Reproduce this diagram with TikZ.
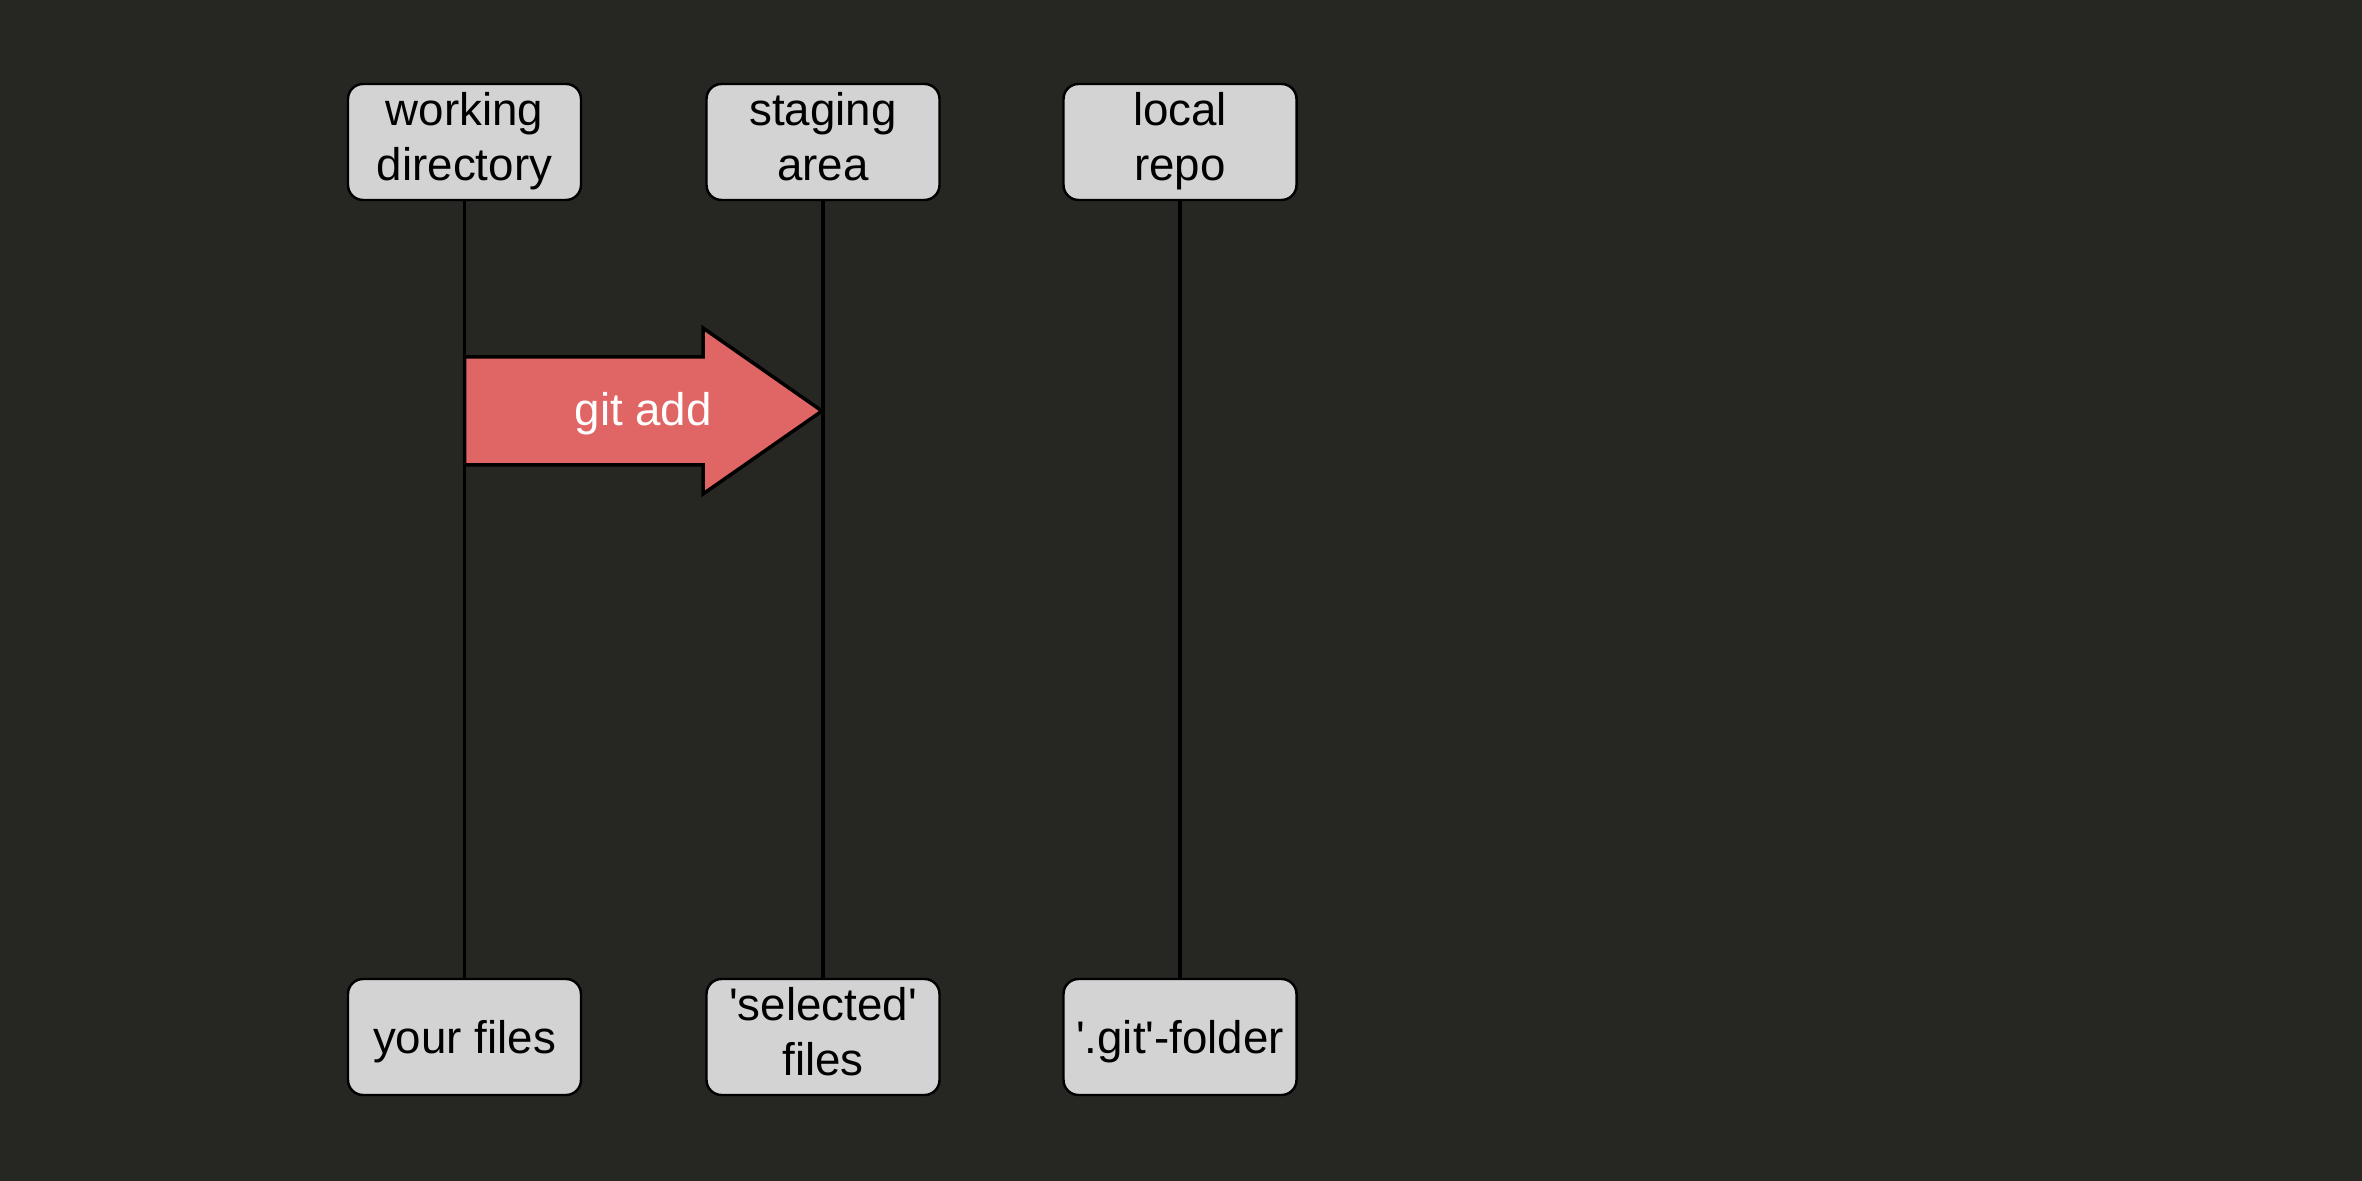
\documentclass[tikz,border=0pt]{standalone}
\usepackage{fontspec}
\setmainfont{Liberation Sans}
\usetikzlibrary{calc}
\definecolor{bgdark}{HTML}{262622}
\definecolor{boxgray}{HTML}{D3D3D3}
\definecolor{addred}{HTML}{E06666}
\newcommand{\lanestrut}{\rule[-0.2\baselineskip]{0pt}{\baselineskip}}
\begin{document}
\begin{tikzpicture}[
    lane/.style={draw=black,fill=boxgray,rounded corners=0.15cm,line width=0.7pt,
      minimum width=2.33cm,minimum height=1.16cm,inner sep=0pt,align=center,
      font=\fontsize{13}{15.5}\selectfont,
      execute at begin node={\lanestrut},execute at end node={\lanestrut}},
    life/.style={black,line width=1pt}]
      \fill[bgdark] (0,0) rectangle (23.62,11.81);
      % top boxes
      \node[lane] (wdir) at (4.645,10.39) {working\\directory};
      \node[lane] (stage) at (8.23,10.39) {staging\\area};
      \node[lane] (repo) at (11.80,10.39) {local\\repo};
      % bottom boxes
      \node[lane] (wfiles) at (4.645,1.44) {your files};
      \node[lane] (sfiles) at (8.23,1.44) {\textquotesingle selected\textquotesingle\\files};
      \node[lane] (gitdir) at (11.80,1.44) {\textquotesingle.git\textquotesingle-folder};
      % lifelines
      \draw[life] (wdir) -- (wfiles);
      \draw[life] (stage) -- (sfiles);
      \draw[life] (repo) -- (gitdir);
      % git add arrow
      \coordinate (addtail) at (4.645,7.70);
      \coordinate (addtip) at (8.22,7.70);
      \draw[fill=addred,line width=1pt,line join=miter](addtail)++(0,0.54)--++(2.385,0)--++(0,0.29)--(addtip)
        --++(-1.19,-0.83)--++(0,0.29)--++(-2.385,0)--cycle;
      \node[text=white,font=\fontsize{13}{15.5}\selectfont,yshift=-0.03cm] (addlabel) at ($(addtail)!0.5!(addtip)$) {git add};
\end{tikzpicture}
\end{document}
